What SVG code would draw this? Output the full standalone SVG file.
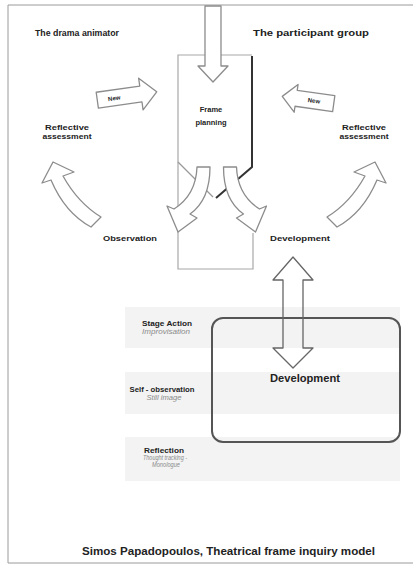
<svg xmlns="http://www.w3.org/2000/svg" width="413" height="566" viewBox="0 0 413 566">
<style>
text{font-family:"Liberation Sans",Arial,sans-serif;fill:#222;font-weight:bold}
.t{font-size:9px}
.s{font-size:7.5px}
.sub{font-size:6.5px;font-weight:normal;font-style:italic;fill:#8a8a8a}
.arr{fill:#fff;stroke:#8c8c8c;stroke-width:1.3;stroke-linejoin:round}
.band{fill:#f3f3f3}
.lite{fill:none;stroke:#a8a8a8;stroke-width:1.2}
</style>
<rect width="413" height="566" fill="#fff"/>
<g id="border"><path d="M413,5 L8,5 L8,563 L413,563" fill="none" stroke="#9a9a9a" stroke-width="1"/></g>
<g id="titles">
<text class="t" x="35" y="36" textLength="84" lengthAdjust="spacingAndGlyphs">The drama animator</text>
<text class="t" x="253" y="36" textLength="116" lengthAdjust="spacingAndGlyphs">The participant group</text>
</g>
<g id="bands">
<rect class="band" x="125" y="307" width="275" height="41"/>
<rect class="band" x="125" y="372" width="275" height="42"/>
<rect class="band" x="125" y="437" width="275" height="44"/>
</g>
<g id="frame">
<path class="lite" d="M252,55 L178,55 L178,269 L253,269 L253,233"/>
<path d="M178,162 L213,197" fill="none" stroke="#999" stroke-width="1.2"/>
<path d="M252,56 L252,167 L216,198" fill="none" stroke="#333" stroke-width="2"/>
<text class="s" x="211" y="112" text-anchor="middle">Frame</text>
<text class="s" x="211" y="125" text-anchor="middle">planning</text>
</g>
<g id="devbox">
<rect x="212" y="318" width="188" height="124" rx="11" fill="none" stroke="#555" stroke-width="2"/>
<text x="305" y="382" font-size="11" text-anchor="middle" textLength="70" lengthAdjust="spacingAndGlyphs">Development</text>
</g>
<g id="labels">
<text class="s" x="67" y="130" text-anchor="middle" textLength="44" lengthAdjust="spacingAndGlyphs">Reflective</text>
<text class="s" x="67" y="139" text-anchor="middle" textLength="49" lengthAdjust="spacingAndGlyphs">assessment</text>
<text class="s" x="364" y="130" text-anchor="middle" textLength="44" lengthAdjust="spacingAndGlyphs">Reflective</text>
<text class="s" x="364" y="139" text-anchor="middle" textLength="49" lengthAdjust="spacingAndGlyphs">assessment</text>
<text class="s" x="130" y="241" text-anchor="middle" textLength="54" lengthAdjust="spacingAndGlyphs">Observation</text>
<text class="s" x="300" y="241" text-anchor="middle" textLength="60" lengthAdjust="spacingAndGlyphs">Development</text>
</g>
<g id="stages">
<text class="s" x="167" y="326" text-anchor="middle" textLength="50" lengthAdjust="spacingAndGlyphs">Stage Action</text>
<text class="sub" x="166" y="334" text-anchor="middle" textLength="48" lengthAdjust="spacingAndGlyphs">Improvisation</text>
<text class="s" x="162" y="392" text-anchor="middle" textLength="65" lengthAdjust="spacingAndGlyphs">Self - observation</text>
<text class="sub" x="164" y="400" text-anchor="middle" textLength="35" lengthAdjust="spacingAndGlyphs">Still image</text>
<text class="s" x="164" y="453" text-anchor="middle" textLength="40" lengthAdjust="spacingAndGlyphs">Reflection</text>
<text class="sub" x="165" y="460" text-anchor="middle" textLength="44" lengthAdjust="spacingAndGlyphs">Thought tracking -</text>
<text class="sub" x="166" y="467" text-anchor="middle" textLength="28" lengthAdjust="spacingAndGlyphs">Monologue</text>
</g>
<g id="connectors">
<path class="arr" d="M205,6 L221,6 L221,66 L228,66 L213,82 L198,66 L205,66 Z"/>
<path class="arr" d="M197,167 L210,167 Q210,200 190,214 L197,218 L178,232 L167,206 L174,209 Q196,195 197,167 Z"/>
<path class="arr" transform="translate(433.5,0) scale(-1,1)" d="M197,167 L210,167 Q210,200 190,214 L197,218 L178,232 L167,206 L174,209 Q196,195 197,167 Z"/>
<path class="arr" d="M91,227 Q65,213 51,180 L42,183 L53,162 L74,172 L63,176 Q78,203 101,217 Z"/>
<path class="arr" transform="translate(428,0) scale(-1,1)" d="M91,227 Q65,213 51,180 L42,183 L53,162 L74,172 L63,176 Q78,203 101,217 Z"/>
<g transform="translate(127,96) rotate(-8)">
<path class="arr" d="M-30,-8 L14,-8 L14,-16 L30,0 L14,16 L14,8 L-30,8 Z"/>
<text x="-13" y="2.5" font-size="6" text-anchor="middle">New</text>
</g>
<g transform="translate(308,100) rotate(8)">
<path class="arr" d="M26,-8 L-12,-8 L-12,-14 L-26,0 L-12,14 L-12,8 L26,8 Z"/>
<text x="6" y="2" font-size="6" text-anchor="middle">New</text>
</g>
<path d="M293,257 L313,280 L303,280 L303,348 L313,348 L293,368 L273,348 L283,348 L283,280 L273,280 Z" fill="none" stroke="#666" stroke-width="1.3" stroke-linejoin="round"/>
</g>
<g id="footer">
<text x="82" y="555" font-size="10" textLength="293" lengthAdjust="spacingAndGlyphs">Simos Papadopoulos, Theatrical frame inquiry model</text>
</g>
</svg>
